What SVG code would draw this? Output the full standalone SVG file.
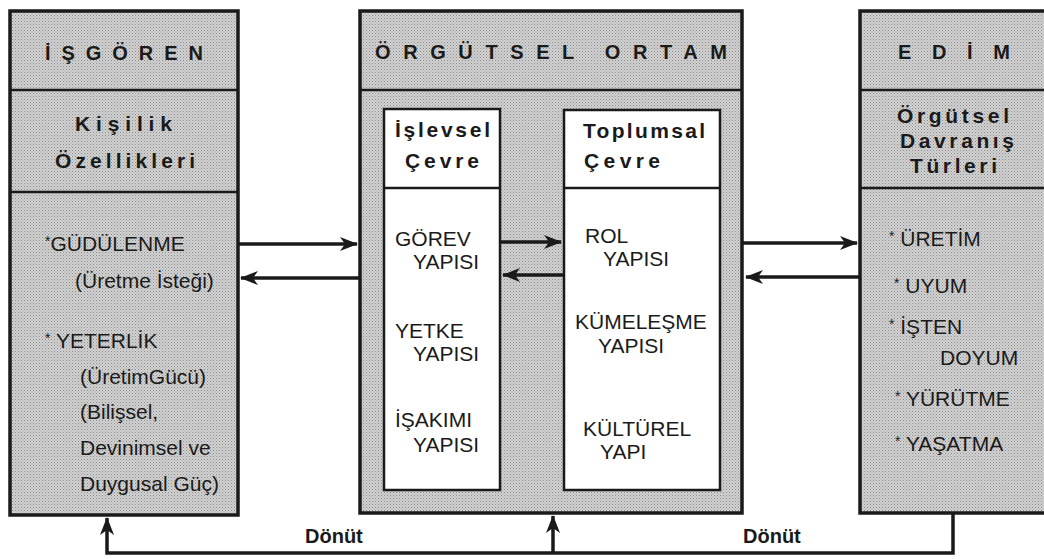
<svg xmlns="http://www.w3.org/2000/svg" width="1044" height="559" viewBox="0 0 1044 559">
  <defs>
    <pattern id="stipple" width="3" height="3" patternUnits="userSpaceOnUse">
      <rect width="3" height="3" fill="#d2d2d2"/>
      <rect x="0" y="0" width="1" height="1" fill="#8a8a8a"/>
      <rect x="1.5" y="1.5" width="1" height="1" fill="#a0a0a0"/>
    </pattern>
    <marker id="arrow" viewBox="0 0 18 14" refX="17" refY="7" markerWidth="18" markerHeight="14" markerUnits="userSpaceOnUse" orient="auto">
      <path d="M0,0 L18,7 L0,14 L5,7 Z" fill="#1a1a1a"/>
    </marker>
  </defs>
  <style>
    .box { fill: url(#stipple); stroke: #1a1a1a; stroke-width: 3.5; }
    .inner { fill: #ffffff; stroke: #1a1a1a; stroke-width: 2.5; }
    .div { stroke: #1a1a1a; stroke-width: 2.5; }
    .title { font-family: "Liberation Sans", Arial, sans-serif; font-weight: bold; font-size: 20px; fill: #1a1a1a; }
    .sub { font-family: "Liberation Sans", Arial, sans-serif; font-weight: bold; font-size: 21px; fill: #1a1a1a; }
    .item { font-family: "Liberation Sans", Arial, sans-serif; font-size: 21px; fill: #1a1a1a; }
    .star { font-size: 14px; }
    .fb { font-family: "Liberation Sans", Arial, sans-serif; font-weight: bold; font-size: 20px; fill: #1a1a1a; }
    .conn { fill: none; stroke: #1a1a1a; stroke-width: 3.5; }
  </style>

  <!-- Employee -->
  <g id="isgoren">
    <rect class="box" x="10" y="11" width="228" height="504"/>
    <line class="div" x1="10" y1="90" x2="238" y2="90"/>
    <line class="div" x1="10" y1="192" x2="238" y2="192"/>
    <text class="title" x="45" y="60" textLength="158" lengthAdjust="spacing">İŞGÖREN</text>
    <text class="sub" x="75" y="131" textLength="97" lengthAdjust="spacing">Kişilik</text>
    <text class="sub" x="55" y="168" textLength="140" lengthAdjust="spacing">Özellikleri</text>
    <text class="item" x="45" y="251"><tspan class="star" dy="-5">*</tspan><tspan dy="5">GÜDÜLENME</tspan></text>
    <text class="item" x="75" y="288">(Üretme İsteği)</text>
    <text class="item" x="45" y="348"><tspan class="star" dy="-5">*</tspan><tspan dy="5"> YETERLİK</tspan></text>
    <text class="item" x="80" y="384">(ÜretimGücü)</text>
    <text class="item" x="80" y="419">(Bilişsel,</text>
    <text class="item" x="80" y="455">Devinimsel ve</text>
    <text class="item" x="80" y="491">Duygusal Güç)</text>
  </g>

  <!-- Organisational environment -->
  <g id="orgutsel-ortam">
    <rect class="box" x="360" y="11" width="382" height="502"/>
    <line class="div" x1="360" y1="90" x2="742" y2="90"/>
    <text class="title" x="375" y="59" textLength="352" lengthAdjust="spacing">ÖRGÜTSEL ORTAM</text>
  </g>

  <g id="islevsel-cevre">
    <rect class="inner" x="384" y="109" width="116" height="381"/>
    <line class="div" x1="384" y1="188" x2="500" y2="188"/>
    <text class="sub" x="395" y="137" textLength="95" lengthAdjust="spacing">İşlevsel</text>
    <text class="sub" x="405" y="168" textLength="74" lengthAdjust="spacing">Çevre</text>
    <text class="item" x="395" y="246">GÖREV</text>
    <text class="item" x="413" y="269">YAPISI</text>
    <text class="item" x="395" y="338">YETKE</text>
    <text class="item" x="413" y="361">YAPISI</text>
    <text class="item" x="395" y="427">İŞAKIMI</text>
    <text class="item" x="413" y="452">YAPISI</text>
  </g>

  <g id="toplumsal-cevre">
    <rect class="inner" x="564" y="110" width="156" height="380"/>
    <line class="div" x1="564" y1="188" x2="720" y2="188"/>
    <text class="sub" x="583" y="138" textLength="122" lengthAdjust="spacing">Toplumsal</text>
    <text class="sub" x="584" y="168" textLength="76" lengthAdjust="spacing">Çevre</text>
    <text class="item" x="585" y="243">ROL</text>
    <text class="item" x="603" y="266">YAPISI</text>
    <text class="item" x="575" y="329">KÜMELEŞME</text>
    <text class="item" x="598" y="353">YAPISI</text>
    <text class="item" x="583" y="436">KÜLTÜREL</text>
    <text class="item" x="600" y="459">YAPI</text>
  </g>

  <!-- Performance -->
  <g id="edim">
    <rect class="box" x="860" y="11" width="190" height="502"/>
    <line class="div" x1="860" y1="90" x2="1044" y2="90"/>
    <line class="div" x1="860" y1="188" x2="1044" y2="188"/>
    <text class="title" x="898" y="59" textLength="112" lengthAdjust="spacing">EDİM</text>
    <text class="sub" x="897" y="123" textLength="112" lengthAdjust="spacing">Örgütsel</text>
    <text class="sub" x="900" y="148" textLength="114" lengthAdjust="spacing">Davranış</text>
    <text class="sub" x="910" y="173" textLength="87" lengthAdjust="spacing">Türleri</text>
    <text class="item" x="889" y="246"><tspan class="star" dy="-5">*</tspan><tspan dy="5"> ÜRETİM</tspan></text>
    <text class="item" x="894" y="293"><tspan class="star" dy="-5">*</tspan><tspan dy="5"> UYUM</tspan></text>
    <text class="item" x="889" y="334"><tspan class="star" dy="-5">*</tspan><tspan dy="5"> İŞTEN</tspan></text>
    <text class="item" x="940" y="365">DOYUM</text>
    <text class="item" x="895" y="406"><tspan class="star" dy="-5">*</tspan><tspan dy="5"> YÜRÜTME</tspan></text>
    <text class="item" x="895" y="451"><tspan class="star" dy="-5">*</tspan><tspan dy="5"> YAŞATMA</tspan></text>
  </g>

  <!-- Connectors -->
  <g id="connectors">
    <line class="conn" x1="239" y1="244" x2="357" y2="244" marker-end="url(#arrow)"/>
    <line class="conn" x1="359" y1="278" x2="241" y2="278" marker-end="url(#arrow)"/>
    <line class="conn" x1="501" y1="242" x2="561" y2="242" marker-end="url(#arrow)"/>
    <line class="conn" x1="563" y1="275" x2="503" y2="275" marker-end="url(#arrow)"/>
    <line class="conn" x1="743" y1="243" x2="857" y2="243" marker-end="url(#arrow)"/>
    <line class="conn" x1="859" y1="277" x2="746" y2="277" marker-end="url(#arrow)"/>
    <polyline class="conn" points="953,514 953,553 107,553 107,518" marker-end="url(#arrow)"/>
    <line class="conn" x1="553" y1="553" x2="553" y2="516" marker-end="url(#arrow)"/>
    <text class="fb" x="305" y="543">Dönüt</text>
    <text class="fb" x="743" y="543">Dönüt</text>
  </g>
</svg>
